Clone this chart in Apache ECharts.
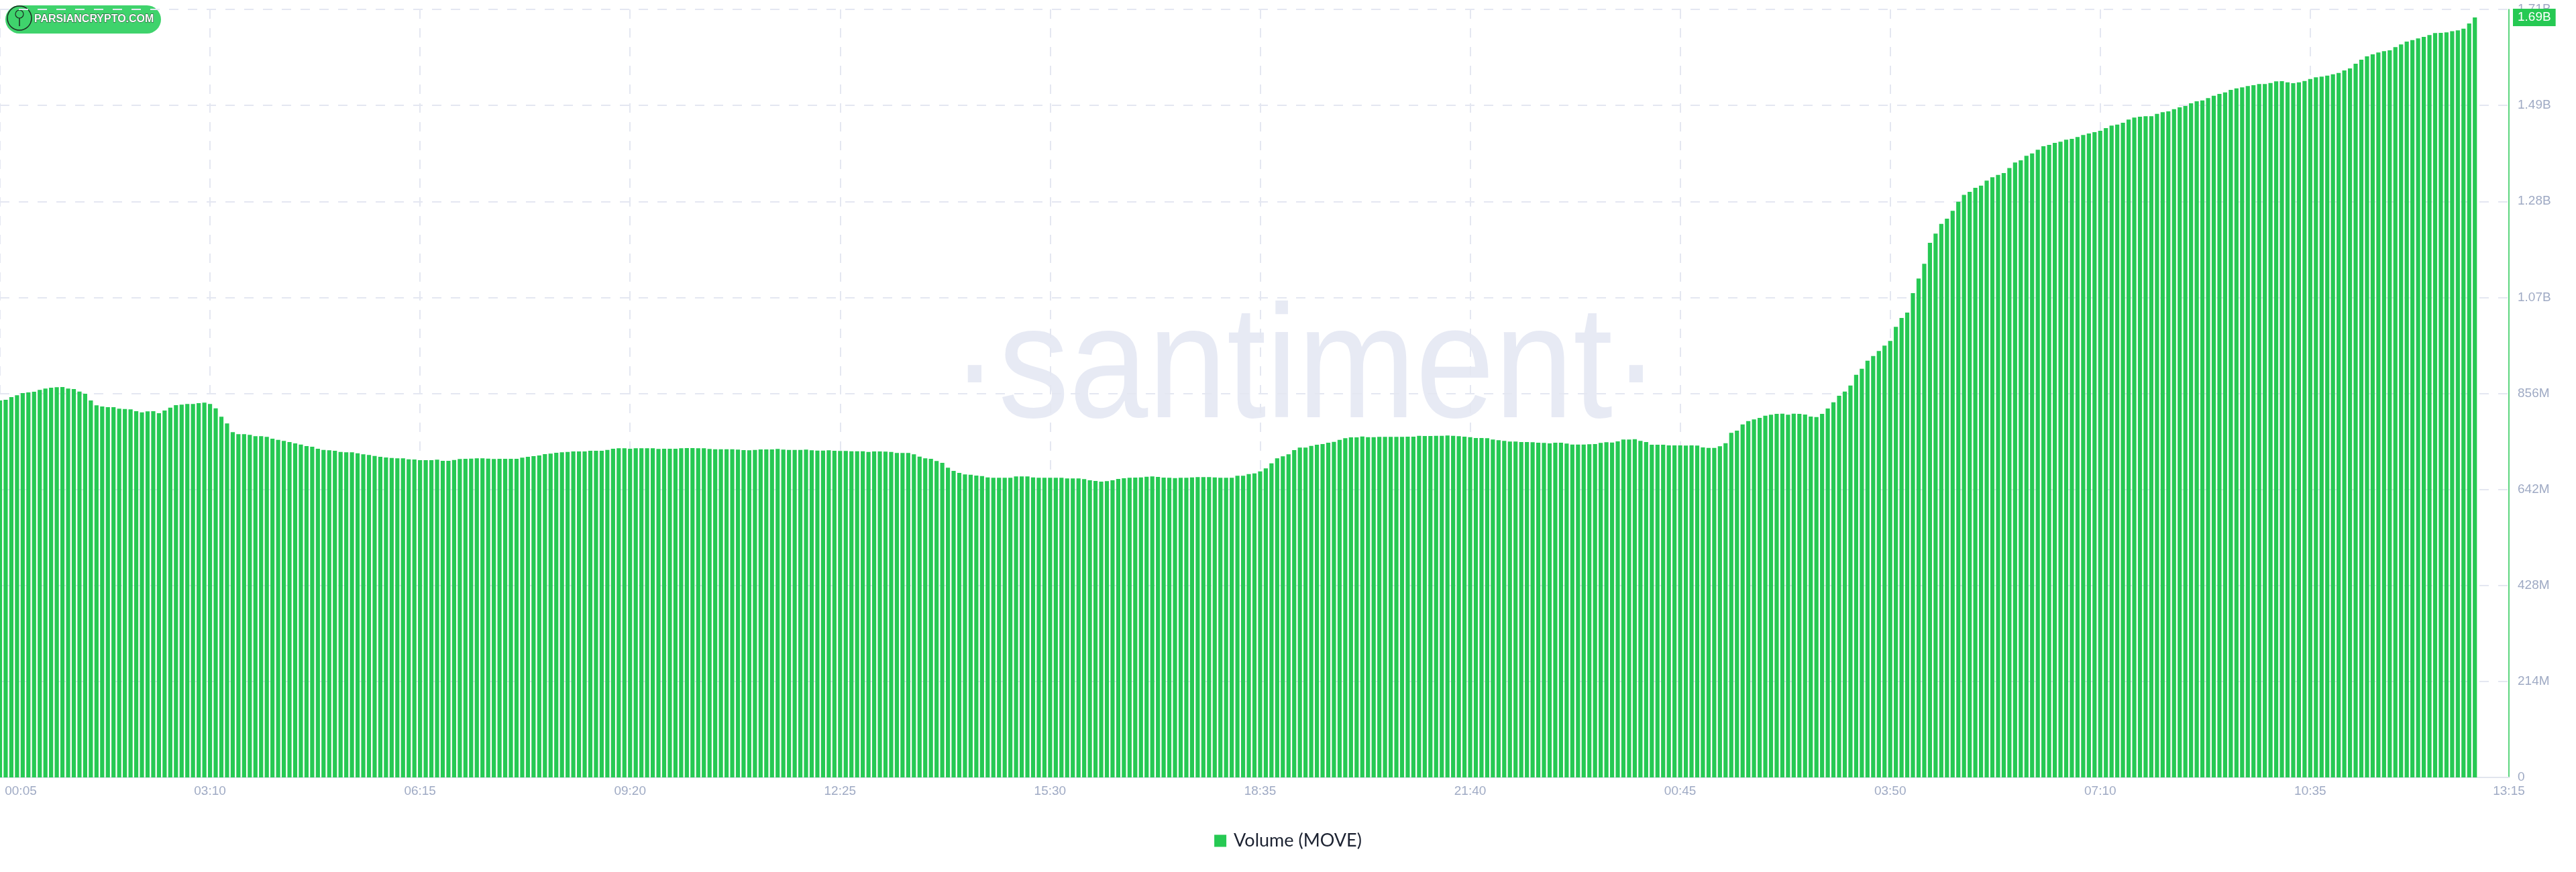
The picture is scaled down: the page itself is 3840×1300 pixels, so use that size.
<!DOCTYPE html>
<html>
<head>
<meta charset="utf-8">
<script src="https://cdn.jsdelivr.net/npm/echarts@6/dist/echarts.min.js"></script>
<style>
  html, body { margin: 0; padding: 0; background: #ffffff; }
  #chart { width: 3840px; height: 1300px; }
</style>
</head>
<body>
<div id="chart"></div>
<script>
// ---------------- DATA ----------------
// Volume (MOVE), in millions, one bar per 5-minute sample
const volumeM = [
  840.7, 842.2, 848.2, 852.2, 857.2, 858.6, 860.1, 864.1, 867.1, 869.1,
  870.1, 870.6, 867.1, 866.1, 860.6, 855.7, 840.7, 829.7, 827.2, 825.7,
  825.7, 822.2, 821.7, 820.8, 816.8, 814.3, 816.3, 816.8, 812.3, 818.3,
  824.7, 830.2, 831.2, 832.7, 832.7, 834.7, 835.7, 832.7, 823.2, 804.3,
  789.3, 769.9, 765.4, 765.4, 763.9, 760.9, 760.9, 759.4, 755.4, 752.9,
  750.4, 748.0, 745.0, 742.5, 739.0, 737.5, 733.0, 730.5, 729.5, 728.5,
  726.0, 725.0, 725.0, 723.0, 720.5, 719.0, 717.0, 715.0, 713.5, 712.6,
  711.6, 711.6, 709.6, 709.1, 707.6, 707.6, 707.6, 708.6, 706.1, 706.1,
  708.1, 710.1, 710.6, 711.1, 711.6, 711.6, 711.1, 710.1, 710.6, 710.6,
  710.6, 710.6, 713.0, 715.0, 716.5, 718.0, 721.0, 722.0, 724.0, 725.0,
  726.0, 727.0, 727.0, 727.0, 728.5, 728.5, 728.5, 730.5, 733.0, 734.0,
  734.0, 733.0, 734.0, 734.0, 734.0, 734.0, 732.5, 733.0, 733.0, 733.0,
  734.0, 734.5, 734.5, 734.0, 734.0, 732.5, 732.0, 732.0, 732.0, 732.0,
  731.0, 730.0, 729.5, 730.5, 731.5, 731.5, 731.5, 732.5, 731.0, 730.5,
  730.5, 730.5, 731.0, 729.5, 729.0, 729.0, 729.5, 728.5, 728.0, 728.0,
  727.5, 727.5, 727.5, 726.0, 727.0, 727.0, 726.5, 726.0, 723.5, 723.5,
  723.5, 720.5, 715.5, 711.6, 710.6, 705.6, 701.6, 690.6, 683.6, 679.1,
  675.6, 675.2, 673.2, 672.2, 669.2, 668.2, 668.2, 668.2, 668.2, 671.2,
  671.2, 671.2, 669.2, 668.2, 668.2, 668.2, 668.2, 668.2, 666.7, 666.7,
  666.7, 665.2, 662.7, 661.2, 659.7, 660.7, 662.7, 665.7, 667.2, 668.2,
  668.7, 669.2, 670.7, 671.2, 670.2, 668.7, 668.2, 667.7, 668.2, 668.2,
  669.2, 669.7, 669.7, 669.7, 669.2, 668.2, 668.2, 668.2, 672.7, 672.7,
  676.6, 678.1, 682.6, 689.1, 700.6, 711.6, 716.0, 720.5, 730.0, 735.5,
  735.5, 739.5, 742.0, 743.5, 746.5, 748.5, 752.9, 756.4, 758.4, 758.4,
  760.4, 758.9, 758.9, 759.4, 759.4, 759.4, 759.4, 759.4, 759.9, 759.9,
  761.9, 761.4, 761.4, 761.9, 761.9, 762.4, 761.9, 760.9, 759.9, 758.9,
  756.9, 756.9, 756.4, 753.4, 751.9, 750.4, 749.0, 749.0, 748.0, 748.0,
  747.5, 746.5, 746.0, 745.0, 746.5, 746.5, 744.5, 742.5, 742.5, 742.5,
  743.0, 743.5, 746.0, 747.5, 747.0, 749.5, 753.4, 753.4, 754.4, 750.4,
  748.0, 742.0, 742.0, 742.0, 740.5, 740.5, 740.5, 740.0, 740.5, 740.0,
  736.0, 735.0, 735.0, 738.5, 745.5, 768.4, 773.4, 787.3, 794.8, 798.3,
  801.8, 806.8, 808.8, 810.8, 811.3, 808.8, 811.3, 810.8, 809.3, 804.8,
  803.8, 810.8, 822.7, 836.7, 851.2, 860.6, 874.1, 898.0, 911.5, 929.4,
  939.9, 950.9, 962.9, 973.3, 1004.7, 1024.7, 1036.7, 1080.0, 1112.5, 1145.4,
  1192.2, 1212.7, 1234.6, 1246.1, 1263.5, 1284.0, 1299.0, 1305.9, 1314.9, 1319.9,
  1330.9, 1338.3, 1343.8, 1347.8, 1359.0, 1371.2, 1376.2, 1386.2, 1391.7, 1399.7,
  1407.6, 1410.6, 1415.1, 1417.6, 1422.1, 1424.1, 1428.1, 1432.6, 1436.1, 1439.1,
  1442.0, 1448.0, 1453.5, 1456.0, 1460.0, 1467.0, 1471.5, 1473.5, 1474.5, 1474.5,
  1479.9, 1483.4, 1485.4, 1490.4, 1494.4, 1497.4, 1503.4, 1507.9, 1509.9, 1514.9,
  1520.3, 1524.3, 1527.8, 1533.3, 1536.8, 1538.8, 1541.8, 1543.8, 1546.3, 1546.3,
  1548.8, 1552.3, 1552.7, 1550.3, 1548.3, 1550.3, 1553.2, 1557.7, 1561.2, 1562.7,
  1565.2, 1568.2, 1571.2, 1576.7, 1581.2, 1591.6, 1600.6, 1608.1, 1612.6, 1616.6,
  1619.6, 1621.6, 1628.6, 1634.5, 1641.0, 1644.5, 1648.0, 1651.5, 1655.5, 1660.0,
  1660.5, 1661.5, 1664.0, 1666.0, 1669.9, 1681.4, 1695.0
];

// x-axis tick labels (one every 37 samples, last one at the axis end)
const xTickLabels = ['00:05', '03:10', '06:15', '09:20', '12:25', '15:30', '18:35',
                     '21:40', '00:45', '03:50', '07:10', '10:35'];
const xEndLabel = '13:15';
const xLabelEvery = 37;
const xSlotCount = 443; // axis spans to 13:15, beyond the last sample

// y-axis tick labels
const yTickLabels = ['0', '214M', '428M', '642M', '856M', '1.07B', '1.28B', '1.49B', '1.71B'];
const yStepM = 214.1;

const seriesName = 'Volume (MOVE)';

// ---------------- CHART ----------------
const GREEN = '#26c953';
const AXIS_TEXT = '#9faac4';
const GRID = '#e4e7f1';

const categories = Array.from({ length: xSlotCount }, (_, i) => String(i));
const lastVal = volumeM[volumeM.length - 1];
const fmtLast = (v) => (Math.floor(v / 10) / 100).toFixed(2) + 'B';

const isTick = (i) => i % xLabelEvery === 0 && i / xLabelEvery < xTickLabels.length;

const chart = echarts.init(document.getElementById('chart'), null, { renderer: 'canvas' });
chart.setOption({
  animation: false,
  backgroundColor: '#ffffff',
  grid: { left: 0, right: 100, top: 14, bottom: 141, containLabel: false },
  graphic: [
    {
      type: 'text', z: -10, silent: true,
      x: 1946, y: 556, scaleX: 0.88, scaleY: 1,
      style: {
        text: '·santiment·',
        x: 0, y: 0,
        fill: '#e7eaf4',
        font: '240px "Liberation Sans", Arial, sans-serif',
        textAlign: 'center', textVerticalAlign: 'middle'
      }
    },
    {
      type: 'group', z: 100, silent: true,
      children: [
        { type: 'rect', shape: { x: 8, y: 8, width: 232, height: 42, r: 21 },
          style: { fill: '#3fd36c' } },
        { type: 'circle', shape: { cx: 29, cy: 27, r: 18 },
          style: { fill: '#3fd36c', stroke: '#1c2a22', lineWidth: 1.5 } },
        { type: 'circle', shape: { cx: 29, cy: 21, r: 6 },
          style: { fill: 'none', stroke: '#1c2a22', lineWidth: 1.2 } },
        { type: 'line', shape: { x1: 29, y1: 27, x2: 29, y2: 39 },
          style: { stroke: '#1c2a22', lineWidth: 1.5 } },
        { type: 'text', style: { text: 'PARSIANCRYPTO.COM', x: 51, y: 29,
            font: 'bold 16px "Liberation Sans", sans-serif', fill: '#ffffff',
            stroke: '#1c2a22', lineWidth: 0.8, textVerticalAlign: 'middle' } }
      ]
    }
  ],
  legend: {
    data: [seriesName],
    bottom: 28, left: 'center',
    icon: 'rect', itemWidth: 18, itemHeight: 18, itemGap: 20,
    textStyle: { fontSize: 27, color: '#1c2231', fontFamily: 'Lato, "Liberation Sans", sans-serif', padding: [0, 0, 0, 6] }
  },
  xAxis: {
    type: 'category',
    data: categories,
    boundaryGap: false,
    axisLine: { show: true, lineStyle: { color: '#e1e5ee', width: 2 } },
    axisTick: { show: false },
    axisLabel: {
      interval: (i) => isTick(i) || i === xSlotCount - 1,
      formatter: (v) => {
        const i = Number(v);
        if (i === xSlotCount - 1) return xEndLabel;
        if (i === 0) return '{first|' + xTickLabels[0] + '}';
        return xTickLabels[i / xLabelEvery];
      },
      color: AXIS_TEXT, fontSize: 19, margin: 11,
      fontFamily: '"Liberation Sans", Arial, sans-serif',
      rich: { first: { color: AXIS_TEXT, fontSize: 19, padding: [0, 0, 0, 62], fontFamily: '"Liberation Sans", Arial, sans-serif' } }
    },
    splitLine: {
      show: true,
      interval: (i) => isTick(i),
      lineStyle: { color: GRID, width: 2, type: [14, 14] }
    }
  },
  yAxis: {
    type: 'value',
    position: 'right',
    min: 0, max: yStepM * (yTickLabels.length - 1), interval: yStepM,
    axisLine: { show: true, lineStyle: { color: GREEN, width: 1.5 } },
    axisTick: { show: false },
    axisLabel: {
      formatter: (v) => yTickLabels[Math.round(v / yStepM)],
      color: AXIS_TEXT, fontSize: 19, margin: 13,
      fontFamily: '"Liberation Sans", Arial, sans-serif'
    },
    splitLine: { show: true, lineStyle: { color: GRID, width: 2, type: [14, 14] } }
  },
  series: [{
    name: seriesName,
    type: 'bar',
    data: volumeM,
    barWidth: 6.2,
    itemStyle: { color: GREEN },
    clip: true,
    markLine: {
      silent: true,
      symbol: 'none',
      z: 10,
      data: [{ yAxis: lastVal }],
      lineStyle: { width: 1, color: 'rgba(0,0,0,0)', type: 'solid' },
      label: {
        show: true, position: 'end', distance: 6,
        formatter: () => fmtLast(lastVal),
        color: '#ffffff', backgroundColor: GREEN,
        fontSize: 19, lineHeight: 21, padding: [3, 7, 2, 7],
        fontFamily: '"Liberation Sans", Arial, sans-serif'
      }
    }
  }]
});
</script>
</body>
</html>
